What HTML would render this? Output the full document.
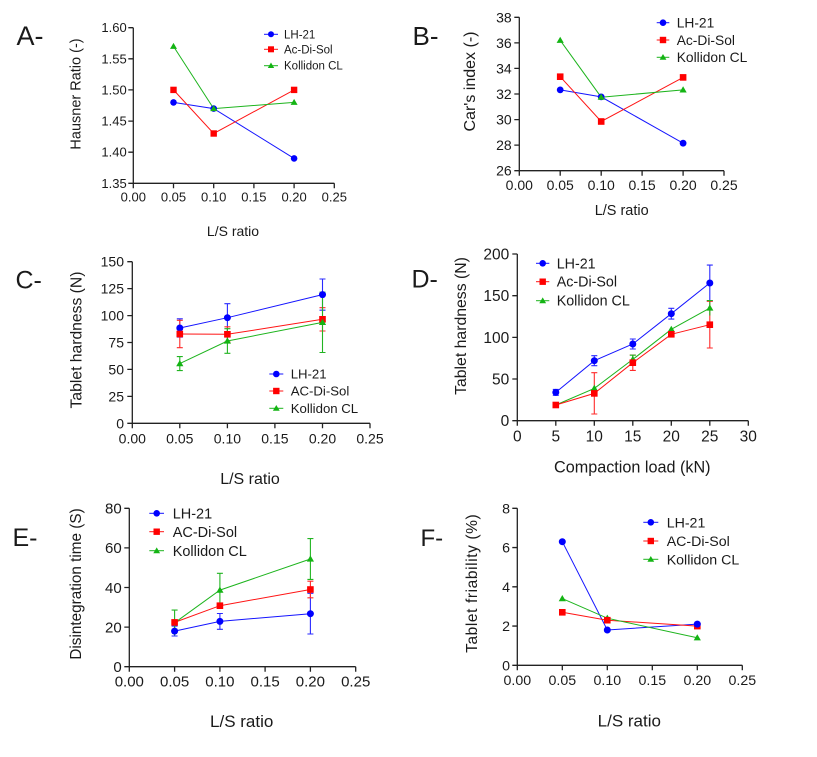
<!DOCTYPE html>
<html><head><meta charset="utf-8"><style>
html,body{margin:0;padding:0;background:#fff;}
svg{display:block;}
text{font-family:"Liberation Sans",Arial,sans-serif;fill:#1a1a1a;}
</style></head><body>
<svg width="817" height="757" viewBox="0 0 817 757" xmlns="http://www.w3.org/2000/svg">
<rect width="817" height="757" fill="#fff"/>

<!-- ================= PANEL A ================= -->
<text x="16.5" y="45" font-size="27">A-</text>
<g stroke="#222" stroke-width="1.3" fill="none">
<path d="M133.3 27.7V183.3H334.3"/>
<path d="M128.3 27.7H133.3M128.3 58.8H133.3M128.3 89.9H133.3M128.3 121.1H133.3M128.3 152.2H133.3M128.3 183.3H133.3"/>
<path d="M133.3 183.3V188.3M173.5 183.3V188.3M213.7 183.3V188.3M253.9 183.3V188.3M294.1 183.3V188.3M334.3 183.3V188.3"/>
</g>
<g font-size="13" text-anchor="end">
<text x="126.7" y="32.2">1.60</text><text x="126.7" y="63.3">1.55</text><text x="126.7" y="94.4">1.50</text>
<text x="126.7" y="125.6">1.45</text><text x="126.7" y="156.7">1.40</text><text x="126.7" y="187.8">1.35</text>
</g>
<g font-size="13" text-anchor="middle">
<text x="133.3" y="201.5">0.00</text><text x="173.5" y="201.5">0.05</text><text x="213.7" y="201.5">0.10</text>
<text x="253.9" y="201.5">0.15</text><text x="294.1" y="201.5">0.20</text><text x="334.3" y="201.5">0.25</text>
</g>
<text transform="translate(80.5,94) rotate(-90)" font-size="14.5" text-anchor="middle">Hausner Ratio (-)</text>
<text x="233" y="236" font-size="14" text-anchor="middle">L/S ratio</text>
<g fill="none" stroke-width="1">
<polyline stroke="#1414ff" points="173.5,102.4 213.7,108.6 294.1,158.4"/>
<polyline stroke="#ff1414" points="173.5,89.9 213.7,133.5 294.1,89.9"/>
<polyline stroke="#1db41d" points="173.5,46.4 213.7,108.6 294.1,102.4"/>
</g>
<g fill="#0000ff"><circle cx="173.5" cy="102.4" r="3.3"/><circle cx="213.7" cy="108.6" r="3.3"/><circle cx="294.1" cy="158.4" r="3.3"/></g>
<g fill="#ff0000"><rect x="170.3" y="86.7" width="6.4" height="6.4"/><rect x="210.5" y="130.3" width="6.4" height="6.4"/><rect x="290.9" y="86.7" width="6.4" height="6.4"/></g>
<g fill="#14b414"><polygon points="173.5,42.9 170,48.9 177,48.9"/><polygon points="213.7,105.1 210.2,111.1 217.2,111.1"/><polygon points="294.1,98.9 290.6,104.9 297.6,104.9"/></g>
<!-- legend A -->
<g stroke-width="1"><line x1="264" y1="34.3" x2="278" y2="34.3" stroke="#1414ff"/><line x1="264" y1="49.3" x2="278" y2="49.3" stroke="#ff1414"/><line x1="264" y1="65.7" x2="278" y2="65.7" stroke="#1db41d"/></g>
<circle cx="271" cy="34.3" r="3" fill="#0000ff"/><rect x="268" y="46.3" width="6" height="6" fill="#ff0000"/><polygon points="271,62.5 267.8,68 274.2,68" fill="#14b414"/>
<g font-size="11.5"><text x="284" y="38.3">LH-21</text><text x="284" y="53.3">Ac-Di-Sol</text><text x="284" y="69.7">Kollidon CL</text></g>

<!-- ================= PANEL B ================= -->
<text x="412.5" y="45" font-size="26">B-</text>
<g stroke="#222" stroke-width="1.3" fill="none">
<path d="M519.3 17.3V170.7H724"/>
<path d="M514.3 17.3H519.3M514.3 42.9H519.3M514.3 68.4H519.3M514.3 94H519.3M514.3 119.6H519.3M514.3 145.1H519.3M514.3 170.7H519.3"/>
<path d="M519.3 170.7V175.7M560.2 170.7V175.7M601.2 170.7V175.7M642.1 170.7V175.7M683.1 170.7V175.7M724 170.7V175.7"/>
</g>
<g font-size="14" text-anchor="end">
<text x="511.7" y="22.3">38</text><text x="511.7" y="47.9">36</text><text x="511.7" y="73.4">34</text><text x="511.7" y="99">32</text>
<text x="511.7" y="124.6">30</text><text x="511.7" y="150.1">28</text><text x="511.7" y="175.7">26</text>
</g>
<g font-size="14" text-anchor="middle">
<text x="519.3" y="190">0.00</text><text x="560.2" y="190">0.05</text><text x="601.2" y="190">0.10</text>
<text x="642.1" y="190">0.15</text><text x="683.1" y="190">0.20</text><text x="724" y="190">0.25</text>
</g>
<text transform="translate(475,81.5) rotate(-90)" font-size="16" text-anchor="middle">Car's index (-)</text>
<text x="621.7" y="215" font-size="14.5" text-anchor="middle">L/S ratio</text>
<g fill="none" stroke-width="1">
<polyline stroke="#1414ff" points="560.2,89.9 601.2,96.9 683.1,143.2"/>
<polyline stroke="#ff1414" points="560.2,76.7 601.2,121.5 683.1,77.4"/>
<polyline stroke="#1db41d" points="560.2,40.3 601.2,97.2 683.1,89.9"/>
</g>
<g fill="#0000ff"><circle cx="560.2" cy="89.9" r="3.4"/><circle cx="601.2" cy="96.9" r="3.4"/><circle cx="683.1" cy="143.2" r="3.4"/></g>
<g fill="#ff0000"><rect x="556.9" y="73.4" width="6.6" height="6.6"/><rect x="597.9" y="118.2" width="6.6" height="6.6"/><rect x="679.8" y="74.1" width="6.6" height="6.6"/></g>
<g fill="#14b414"><polygon points="560.2,36.7 556.6,42.9 563.8,42.9"/><polygon points="601.2,93.6 597.6,99.8 604.8,99.8"/><polygon points="683.1,86.3 679.5,92.5 686.7,92.5"/></g>
<g stroke-width="1"><line x1="656.7" y1="22.7" x2="669.3" y2="22.7" stroke="#1414ff"/><line x1="656.7" y1="40" x2="669.3" y2="40" stroke="#ff1414"/><line x1="656.7" y1="57.3" x2="669.3" y2="57.3" stroke="#1db41d"/></g>
<circle cx="663" cy="22.7" r="3.3" fill="#0000ff"/><rect x="659.8" y="36.8" width="6.4" height="6.4" fill="#ff0000"/><polygon points="663,54 659.6,59.8 666.4,59.8" fill="#14b414"/>
<g font-size="13.8"><text x="676.7" y="27.5">LH-21</text><text x="676.7" y="44.8">Ac-Di-Sol</text><text x="676.7" y="62.1">Kollidon CL</text></g>

<!-- ================= PANEL C ================= -->
<text x="15.5" y="288.5" font-size="25">C-</text>
<g stroke="#222" stroke-width="1.3" fill="none">
<path d="M132.3 261.7V423.3H370"/>
<path d="M127.3 261.7H132.3M127.3 288.6H132.3M127.3 315.6H132.3M127.3 342.5H132.3M127.3 369.4H132.3M127.3 396.4H132.3M127.3 423.3H132.3"/>
<path d="M132.3 423.3V428.3M179.8 423.3V428.3M227.4 423.3V428.3M274.9 423.3V428.3M322.5 423.3V428.3M370 423.3V428.3"/>
</g>
<g font-size="14" text-anchor="end">
<text x="124" y="266.7">150</text><text x="124" y="293.6">125</text><text x="124" y="320.6">100</text><text x="124" y="347.5">75</text>
<text x="124" y="374.4">50</text><text x="124" y="401.4">25</text><text x="124" y="428.3">0</text>
</g>
<g font-size="14" text-anchor="middle">
<text x="132.3" y="443.3">0.00</text><text x="179.8" y="443.3">0.05</text><text x="227.4" y="443.3">0.10</text>
<text x="274.9" y="443.3">0.15</text><text x="322.5" y="443.3">0.20</text><text x="370" y="443.3">0.25</text>
</g>
<text transform="translate(81.5,340) rotate(-90)" font-size="15.7" text-anchor="middle">Tablet hardness (N)</text>
<text x="250" y="484" font-size="16" text-anchor="middle">L/S ratio</text>
<!-- error bars C -->
<g fill="none" stroke-width="1.1">
<path stroke="#2a2aff" d="M179.8 318.8V337.1M176.8 318.8H182.8M176.8 337.1H182.8 M227.4 303.7V331.7M224.4 303.7H230.4M224.4 331.7H230.4 M322.5 279V310.2M319.5 279H325.5M319.5 310.2H325.5"/>
<path stroke="#ff2a2a" d="M179.8 320.3V347.7M176.8 320.3H182.8M176.8 347.7H182.8 M227.4 326.8V341.9M224.4 326.8H230.4M224.4 341.9H230.4 M322.5 307.7V331M319.5 307.7H325.5M319.5 331H325.5"/>
<path stroke="#22b422" d="M179.8 356.6V370.6M176.8 356.6H182.8M176.8 370.6H182.8 M227.4 328.7V353.3M224.4 328.7H230.4M224.4 353.3H230.4 M322.5 292.2V352.5M319.5 292.2H325.5M319.5 352.5H325.5"/>
</g>
<g fill="none" stroke-width="1">
<polyline stroke="#1414ff" points="179.8,328 227.4,317.7 322.5,294.6"/>
<polyline stroke="#ff1414" points="179.8,334 227.4,334.3 322.5,319.3"/>
<polyline stroke="#1db41d" points="179.8,363.6 227.4,341 322.5,322.4"/>
</g>
<g fill="#0000ff"><circle cx="179.8" cy="328" r="3.5"/><circle cx="227.4" cy="317.7" r="3.5"/><circle cx="322.5" cy="294.6" r="3.5"/></g>
<g fill="#ff0000"><rect x="176.5" y="330.7" width="6.6" height="6.6"/><rect x="224.1" y="331" width="6.6" height="6.6"/><rect x="319.2" y="316" width="6.6" height="6.6"/></g>
<g fill="#14b414"><polygon points="179.8,360 176.2,366.2 183.4,366.2"/><polygon points="227.4,337.4 223.8,343.6 231,343.6"/><polygon points="322.5,318.8 318.9,325 326.1,325"/></g>
<g stroke-width="1"><line x1="269.3" y1="374" x2="283.3" y2="374" stroke="#1414ff"/><line x1="269.3" y1="391" x2="283.3" y2="391" stroke="#ff1414"/><line x1="269.3" y1="408.3" x2="283.3" y2="408.3" stroke="#1db41d"/></g>
<circle cx="276.3" cy="374" r="3.3" fill="#0000ff"/><rect x="273.1" y="387.8" width="6.4" height="6.4" fill="#ff0000"/><polygon points="276.3,405 272.9,410.8 279.7,410.8" fill="#14b414"/>
<g font-size="13.2"><text x="290.7" y="378.7">LH-21</text><text x="290.7" y="395.7">AC-Di-Sol</text><text x="290.7" y="413">Kollidon CL</text></g>

<!-- ================= PANEL D ================= -->
<text x="411.5" y="287.5" font-size="25">D-</text>
<g stroke="#222" stroke-width="1.3" fill="none">
<path d="M517.3 254V420.7H748.3"/>
<path d="M512.3 254H517.3M512.3 295.7H517.3M512.3 337.35H517.3M512.3 379H517.3M512.3 420.7H517.3"/>
<path d="M517.3 420.7V425.7M555.8 420.7V425.7M594.3 420.7V425.7M632.8 420.7V425.7M671.3 420.7V425.7M709.8 420.7V425.7M748.3 420.7V425.7"/>
</g>
<g font-size="15.5" text-anchor="end">
<text x="509.3" y="259.5">200</text><text x="509.3" y="301.2">150</text><text x="509.3" y="342.9">100</text><text x="509.3" y="384.5">50</text><text x="509.3" y="426.2">0</text>
</g>
<g font-size="15.5" text-anchor="middle">
<text x="517.3" y="441.7">0</text><text x="555.8" y="441.7">5</text><text x="594.3" y="441.7">10</text><text x="632.8" y="441.7">15</text>
<text x="671.3" y="441.7">20</text><text x="709.8" y="441.7">25</text><text x="748.3" y="441.7">30</text>
</g>
<text transform="translate(466,326) rotate(-90)" font-size="15.8" text-anchor="middle">Tablet hardness (N)</text>
<text x="632.3" y="472.3" font-size="16.2" text-anchor="middle">Compaction load (kN)</text>
<g fill="none" stroke-width="1.1">
<path stroke="#2a2aff" d="M555.8 389.4V395.3M552.8 389.4H558.8M552.8 395.3H558.8 M594.3 355.7V365.7M591.3 355.7H597.3M591.3 365.7H597.3 M632.8 339V349M629.8 339H635.8M629.8 349H635.8 M671.3 308.3V319.1M668.3 308.3H674.3M668.3 319.1H674.3 M709.8 265.1V300.9M706.8 265.1H712.8M706.8 300.9H712.8"/>
<path stroke="#ff2a2a" d="M555.8 403.4V406.7M594.3 372.7V414M591.3 372.7H597.3M591.3 414H597.3 M632.8 355V370.4M629.8 355H635.8M629.8 370.4H635.8 M671.3 331.8V336.9M668.3 331.8H674.3M668.3 336.9H674.3 M709.8 301.3V348M706.8 301.3H712.8M706.8 348H712.8"/>
<path stroke="#22b422" d="M594.3 386.4V390.4M632.8 355.2V363.5M629.8 355.2H635.8 M709.8 300.5V315.5M706.8 300.5H712.8"/>
</g>
<g fill="none" stroke-width="1">
<polyline stroke="#1414ff" points="555.8,392.4 594.3,360.7 632.8,344 671.3,313.7 709.8,283"/>
<polyline stroke="#1db41d" points="555.8,405 594.3,388.4 632.8,359.4 671.3,329.3 709.8,308"/>
<polyline stroke="#ff1414" points="555.8,405 594.3,393.4 632.8,362.7 671.3,334.3 709.8,324.7"/>
</g>
<g fill="#0000ff"><circle cx="555.8" cy="392.4" r="3.5"/><circle cx="594.3" cy="360.7" r="3.5"/><circle cx="632.8" cy="344" r="3.5"/><circle cx="671.3" cy="313.7" r="3.5"/><circle cx="709.8" cy="283" r="3.5"/></g>
<g fill="#14b414"><polygon points="594.3,384.8 590.7,391 597.9,391"/><polygon points="632.8,355.8 629.2,362 636.4,362"/><polygon points="671.3,325.7 667.7,331.9 674.9,331.9"/><polygon points="709.8,304.4 706.2,310.6 713.4,310.6"/></g>
<g fill="#ff0000"><rect x="552.5" y="401.7" width="6.6" height="6.6"/><rect x="591" y="390.1" width="6.6" height="6.6"/><rect x="629.5" y="359.4" width="6.6" height="6.6"/><rect x="668" y="331" width="6.6" height="6.6"/><rect x="706.5" y="321.4" width="6.6" height="6.6"/></g>
<g stroke-width="1"><line x1="536" y1="263.3" x2="549.3" y2="263.3" stroke="#1414ff"/><line x1="536" y1="281.7" x2="549.3" y2="281.7" stroke="#ff1414"/><line x1="536" y1="300.7" x2="549.3" y2="300.7" stroke="#1db41d"/></g>
<circle cx="542.7" cy="263.3" r="3.3" fill="#0000ff"/><rect x="539.5" y="278.5" width="6.4" height="6.4" fill="#ff0000"/><polygon points="542.7,297.4 539.3,303.2 546.1,303.2" fill="#14b414"/>
<g font-size="14.3"><text x="556.7" y="268.3">LH-21</text><text x="556.7" y="286.7">Ac-Di-Sol</text><text x="556.7" y="305.7">Kollidon CL</text></g>

<!-- ================= PANEL E ================= -->
<text x="12.5" y="546" font-size="25">E-</text>
<g stroke="#222" stroke-width="1.3" fill="none">
<path d="M129.3 508.3V666.7H355.7"/>
<path d="M124.3 508.3H129.3M124.3 547.9H129.3M124.3 587.5H129.3M124.3 627.1H129.3M124.3 666.7H129.3"/>
<path d="M129.3 666.7V671.7M174.6 666.7V671.7M219.9 666.7V671.7M265.1 666.7V671.7M310.4 666.7V671.7M355.7 666.7V671.7"/>
</g>
<g font-size="15" text-anchor="end">
<text x="121.7" y="513.6">80</text><text x="121.7" y="553.2">60</text><text x="121.7" y="592.8">40</text><text x="121.7" y="632.4">20</text><text x="121.7" y="672">0</text>
</g>
<g font-size="15" text-anchor="middle">
<text x="129.3" y="686.7">0.00</text><text x="174.6" y="686.7">0.05</text><text x="219.9" y="686.7">0.10</text>
<text x="265.1" y="686.7">0.15</text><text x="310.4" y="686.7">0.20</text><text x="355.7" y="686.7">0.25</text>
</g>
<text transform="translate(81,584) rotate(-90)" font-size="15.3" text-anchor="middle">Disintegration time (S)</text>
<text x="241.7" y="727" font-size="17" text-anchor="middle">L/S ratio</text>
<g fill="none" stroke-width="1.1">
<path stroke="#2a2aff" d="M174.6 626.1V636M171.6 626.1H177.6M171.6 636H177.6 M219.9 613.5V629.3M216.9 613.5H222.9M216.9 629.3H222.9 M310.4 593.3V634M307.4 593.3H313.4M307.4 634H313.4"/>
<path stroke="#22b422" d="M174.6 610.1V635.4M171.6 610.1H177.6 M219.9 573.3V606.9M216.9 573.3H222.9M216.9 606.9H222.9 M310.4 538.6V579.4M307.4 538.6H313.4M307.4 579.4H313.4"/>
<path stroke="#ff2a2a" d="M174.6 620V624.7M171.6 620H177.6 M219.9 603.7V607.7 M310.4 581.2V597.8M307.4 581.2H313.4M307.4 597.8H313.4"/>
</g>
<g fill="none" stroke-width="1">
<polyline stroke="#1414ff" points="174.6,631.1 219.9,621.4 310.4,613.7"/>
<polyline stroke="#ff1414" points="174.6,622.4 219.9,605.7 310.4,589.5"/>
<polyline stroke="#1db41d" points="174.6,622.8 219.9,590.1 310.4,559"/>
</g>
<g fill="#0000ff"><circle cx="174.6" cy="631.1" r="3.5"/><circle cx="219.9" cy="621.4" r="3.5"/><circle cx="310.4" cy="613.7" r="3.5"/></g>
<g fill="#14b414"><polygon points="219.9,586.5 216.3,592.7 223.5,592.7"/><polygon points="310.4,555.4 306.8,561.6 314,561.6"/></g>
<g fill="#ff0000"><rect x="171.3" y="619.1" width="6.6" height="6.6"/><rect x="216.6" y="602.4" width="6.6" height="6.6"/><rect x="307.1" y="586.2" width="6.6" height="6.6"/></g>
<g stroke-width="1"><line x1="149.3" y1="513.3" x2="164" y2="513.3" stroke="#1414ff"/><line x1="149.3" y1="531.7" x2="164" y2="531.7" stroke="#ff1414"/><line x1="149.3" y1="550.7" x2="164" y2="550.7" stroke="#1db41d"/></g>
<circle cx="156.7" cy="513.3" r="3.3" fill="#0000ff"/><rect x="153.5" y="528.5" width="6.4" height="6.4" fill="#ff0000"/><polygon points="156.7,547.4 153.3,553.2 160.1,553.2" fill="#14b414"/>
<g font-size="14.5"><text x="172.7" y="518.4">LH-21</text><text x="172.7" y="536.8">AC-Di-Sol</text><text x="172.7" y="555.8">Kollidon CL</text></g>

<!-- ================= PANEL F ================= -->
<text x="420.5" y="546" font-size="24">F-</text>
<g stroke="#222" stroke-width="1.3" fill="none">
<path d="M517.3 508.3V665.3H742.3"/>
<path d="M512.3 508.3H517.3M512.3 547.55H517.3M512.3 586.8H517.3M512.3 626.05H517.3M512.3 665.3H517.3"/>
<path d="M517.3 665.3V670.3M562.3 665.3V670.3M607.3 665.3V670.3M652.3 665.3V670.3M697.3 665.3V670.3M742.3 665.3V670.3"/>
</g>
<g font-size="14.2" text-anchor="end">
<text x="510" y="513.4">8</text><text x="510" y="552.6">6</text><text x="510" y="591.9">4</text><text x="510" y="631.1">2</text><text x="510" y="670.4">0</text>
</g>
<g font-size="14.2" text-anchor="middle">
<text x="517.3" y="685">0.00</text><text x="562.3" y="685">0.05</text><text x="607.3" y="685">0.10</text>
<text x="652.3" y="685">0.15</text><text x="697.3" y="685">0.20</text><text x="742.3" y="685">0.25</text>
</g>
<text transform="translate(477,583.3) rotate(-90)" font-size="15.5" letter-spacing="0.6" text-anchor="middle">Tablet friability (%)</text>
<text x="629.3" y="726.7" font-size="17" text-anchor="middle">L/S ratio</text>
<g fill="none" stroke-width="1">
<polyline stroke="#1414ff" points="562.3,541.7 607.3,630 697.3,624.1"/>
<polyline stroke="#ff1414" points="562.3,612.3 607.3,620.2 697.3,626.1"/>
<polyline stroke="#1db41d" points="562.3,598.6 607.3,618.2 697.3,637.8"/>
</g>
<g fill="#14b414"><polygon points="562.3,595 558.7,601.2 565.9,601.2"/><polygon points="607.3,614.6 603.7,620.8 610.9,620.8"/><polygon points="697.3,634.2 693.7,640.4 700.9,640.4"/></g>
<g fill="#ff0000"><rect x="559" y="609" width="6.6" height="6.6"/><rect x="604" y="616.9" width="6.6" height="6.6"/><rect x="694" y="622.8" width="6.6" height="6.6"/></g>
<g fill="#0000ff"><circle cx="562.3" cy="541.7" r="3.5"/><circle cx="607.3" cy="630" r="3.5"/><circle cx="697.3" cy="624.1" r="3.5"/></g>
<g stroke-width="1"><line x1="643.3" y1="522.3" x2="658.3" y2="522.3" stroke="#1414ff"/><line x1="643.3" y1="541" x2="658.3" y2="541" stroke="#ff1414"/><line x1="643.3" y1="559.3" x2="658.3" y2="559.3" stroke="#1db41d"/></g>
<circle cx="650.8" cy="522.3" r="3.3" fill="#0000ff"/><rect x="647.6" y="537.8" width="6.4" height="6.4" fill="#ff0000"/><polygon points="650.8,556 647.4,561.8 654.2,561.8" fill="#14b414"/>
<g font-size="14.2"><text x="666.7" y="527.3">LH-21</text><text x="666.7" y="546">AC-Di-Sol</text><text x="666.7" y="564.3">Kollidon CL</text></g>
</svg>
</body></html>
